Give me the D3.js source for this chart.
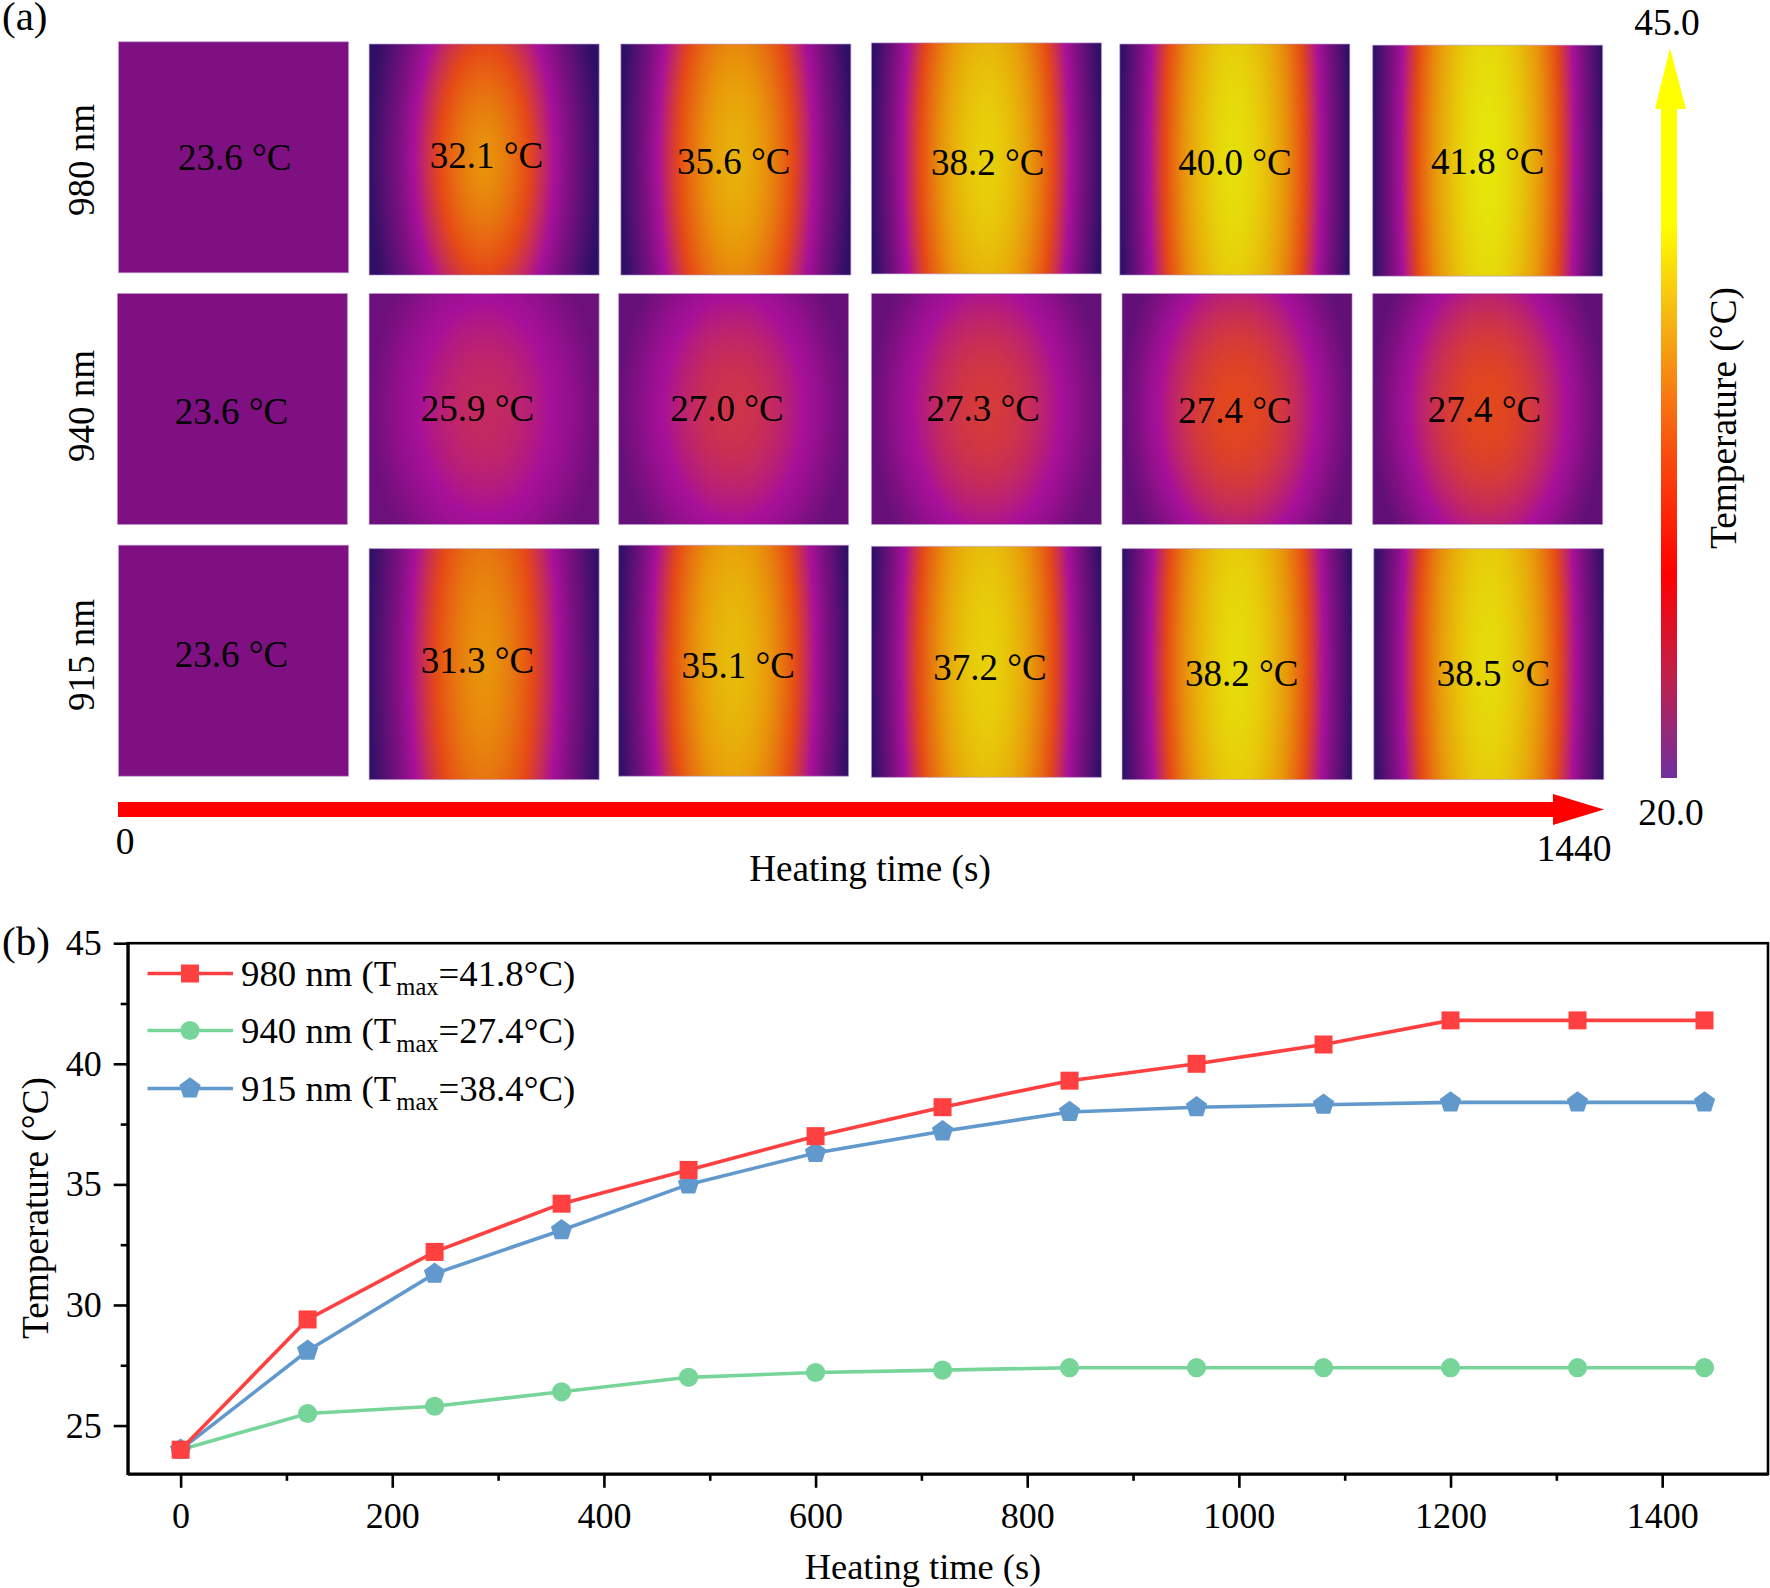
<!DOCTYPE html>
<html><head><meta charset="utf-8">
<script src="https://cdn.jsdelivr.net/npm/d3@7"></script>
<style>html,body{margin:0;padding:0;background:#fff}svg{display:block}text{font-family:"Liberation Serif","Times New Roman",serif;fill:#000}</style>
</head><body><div id="c"></div>
<script>
// ---------- data ----------
const times = [0,120,240,360,480,600,720,840,960,1080,1200,1320,1440];
const t980 = [24,29.4,32.2,34.2,35.6,37,38.2,39.3,40,40.8,41.8,41.8,41.8];
const t940 = [24,25.5,25.8,26.4,27,27.2,27.3,27.4,27.4,27.4,27.4,27.4,27.4];
const t915 = [24,28.1,31.3,33.1,35,36.3,37.2,38,38.2,38.3,38.4,38.4,38.4];
const seriesNames = ["980 nm","940 nm","915 nm"];
const seriesTmax = ["41.8","27.4","38.4"];
const seriesColors = ["#ff4040","#77d59a","#6299cd"];
const xTicks = [0,200,400,600,800,1000,1200,1400];
const yTicks = [25,30,35,40,45];
const cellLabels = [
 ["23.6","32.1","35.6","38.2","40.0","41.8"],
 ["23.6","25.9","27.0","27.3","27.4","27.4"],
 ["23.6","31.3","35.1","37.2","38.2","38.5"]];
// thermal-image appearance: centre level, edge level, vertical falloff, profile exponent
const peak = [[.3,.77,.85,.94,.98,1],[.3,.5,.53,.55,.59,.59],[.3,.77,.88,.94,.97,.97]];
const edge = [[.3,.02,.02,.02,.02,.02],[.3,.24,.22,.22,.2,.2],[.3,.03,.03,.03,.03,.03]];
const fall = [[0,.4,.3,.25,.2,.18],[0,.62,.62,.6,.58,.58],[0,.25,.25,.22,.2,.2]];
const expo = [[1,1.55,1.7,1.8,1.85,1.9],[1,2.1,2.1,2.1,2.2,2.2],[1,1.7,1.8,1.85,1.9,1.9]];
const heatLevels = [0,.3,.42,.6,.78,1];
const heatColors = ["#2a1064","#7e1082","#a8109a","#e64a16","#e8980a","#e6e60a"];
const barStops = [[0,"#ffff00"],[.24,"#ffff00"],[.38,"#f5b015"],[.55,"#f8500f"],[.72,"#ff0000"],[.86,"#c0204a"],[1,"#7030a0"]];

// ---------- layout (measured on the 1568-wide preview) ----------
const K = 1770/1568;
const cellX = [[105,327,550,772,992,1216],[104,327,548,772,994,1216],[105,327,548,772,994,1217]];
const cellY = [[37,39,39,38,39,40],[260,260,260,260,260,260],[483,486,483,484,486,486]];
const cellW = 204, cellH = 205;
const labelX = [[208,431,650,875,1094,1318],[205,423,644,871,1094,1315],[205,423,654,877,1100,1323]];
const labelY = [[140,138,143,144,144,143],[365,362,362,362,364,363],[580,585,590,592,597,597]];
const rowNames = ["980 nm","940 nm","915 nm"];
const rowNameY = [160,406,655];

const svg = d3.select("#c").append("svg").attr("width",1770).attr("height",1588).attr("viewBox","0 0 1770 1588");
const txt = (s,x,y,size,anchor="middle",rot=0)=>{
  const t = svg.append("text").attr("font-size",size).attr("text-anchor",anchor).text(s);
  t.attr("transform",`translate(${x},${y}) rotate(${rot})`); return t;};

// ---------- heat panels ----------
const heat = d3.scaleLinear().domain(heatLevels).range(heatColors).interpolate(d3.interpolateRgb).clamp(true);
const lut = d3.range(513).map(i=>{const c=d3.rgb(heat(i/512));return [c.r,c.g,c.b];});
const W = Math.round(cellW*K), H = Math.round(cellH*K);
function panel(r,c){
  const cv=document.createElement("canvas");cv.width=W;cv.height=H;
  const ctx=cv.getContext("2d"),im=ctx.createImageData(W,H),d=im.data;
  const P=peak[r][c],E=edge[r][c],F=fall[r][c],X=expo[r][c];
  for(let y=0;y<H;y++){const v=(y+.5)/H*2-1;
    for(let x=0;x<W;x++){const u=(x+.5)/W*2-1;
      const rr=Math.min(1,Math.sqrt(u*u+F*F*v*v));
      const L=E+(P-E)*(1-Math.pow(rr,X));
      const col=lut[Math.max(0,Math.min(512,Math.round(L*512)))],i=(y*W+x)*4;
      d[i]=col[0];d[i+1]=col[1];d[i+2]=col[2];d[i+3]=255;}}
  ctx.putImageData(im,0,0);return cv.toDataURL();
}
const cells = cellLabels.flatMap((row,r)=>row.map((s,c)=>({r,c,s})));
svg.append("g").selectAll("image").data(cells).join("image")
  .attr("x",d=>cellX[d.r][d.c]*K).attr("y",d=>cellY[d.r][d.c]*K)
  .attr("width",W).attr("height",H).attr("href",d=>panel(d.r,d.c));
svg.append("g").selectAll("rect").data(cells).join("rect")
  .attr("x",d=>cellX[d.r][d.c]*K).attr("y",d=>cellY[d.r][d.c]*K)
  .attr("width",W).attr("height",H).attr("fill","none")
  .attr("stroke","#b79ad0").attr("stroke-opacity",.6).attr("stroke-width",1);
svg.append("g").selectAll("text").data(cells).join("text")
  .attr("x",d=>labelX[d.r][d.c]*K).attr("y",d=>labelY[d.r][d.c]*K)
  .attr("dy","0.33em").attr("text-anchor","middle").attr("font-size",37)
  .text(d=>d.s+" °C");
rowNames.forEach((s,i)=>txt(s,94,rowNameY[i],37,"middle",-90));

// ---------- arrows ----------
const defs = svg.append("defs");
const lg = defs.append("linearGradient").attr("id","bar").attr("gradientUnits","userSpaceOnUse")
  .attr("x1",0).attr("x2",0).attr("y1",48).attr("y2",778);
lg.selectAll("stop").data(barStops).join("stop").attr("offset",d=>d[0]).attr("stop-color",d=>d[1]);
svg.append("path").attr("fill","url(#bar)")
  .attr("d","M1670,48L1686,109L1677,109L1677,778L1661,778L1661,109L1655,109Z");
svg.append("path").attr("fill","#ff0000")
  .attr("d","M118,802L1553,802L1553,794L1604,809.5L1553,825L1553,817L118,817Z");
txt("45.0",1667,35,37.5); txt("20.0",1671,825,37.5);
txt("0",125,854,37.5); txt("1440",1574,861,37.5);
txt("Heating time (s)",870,881,37.2);
txt("Temperature (°C)",1736,418,37.3,"middle",-90);
txt("(a)",2,30,41,"start"); txt("(b)",2,955,41,"start");

// ---------- line chart ----------
const x = d3.scaleLinear().domain([-50,1500]).range([127.7,1768]);
const y = d3.scaleLinear().domain([23,45]).range([1473.8,943.2]);
const axisCol="#000", axisW=2.6;
const xAxis = d3.axisBottom(x).tickValues(xTicks).tickSizeInner(14).tickSizeOuter(0).tickPadding(15).tickFormat(d3.format("d"));
const yAxis = d3.axisLeft(y).tickValues(yTicks).tickSizeInner(14).tickSizeOuter(0).tickPadding(12).tickFormat(d3.format("d"));
const xMinor = d3.axisBottom(x).tickValues(d3.range(100,1500,200)).tickSizeInner(7).tickSizeOuter(0).tickFormat("");
const yMinor = d3.axisLeft(y).tickValues([27.5,32.5,37.5,42.5]).tickSizeInner(7).tickSizeOuter(0).tickFormat("");
[[xMinor,`translate(0,${y.range()[0]})`],[yMinor,`translate(${x.range()[0]},0)`],
 [xAxis,`translate(0,${y.range()[0]})`],[yAxis,`translate(${x.range()[0]},0)`]].forEach(([a,t])=>{
  const g=svg.append("g").attr("transform",t).call(a);
  g.selectAll("path,line").attr("stroke",axisCol).attr("stroke-width",axisW);
  g.selectAll("text").attr("font-size",36).attr("font-family",'"Liberation Serif",serif').attr("fill","#000");
});
svg.append("rect").attr("x",x.range()[0]).attr("y",y.range()[1])
  .attr("width",x.range()[1]-x.range()[0]).attr("height",y.range()[0]-y.range()[1])
  .attr("fill","none").attr("stroke",axisCol).attr("stroke-width",axisW);

const line = d3.line().x((d,i)=>x(times[i])).y(d=>y(d));
const symSquare = d3.symbol().type(d3.symbolSquare).size(18*18)();
const symCircle = d3.symbol().type(d3.symbolCircle).size(Math.PI*9.6*9.6)();
const pent = d3.range(5).map(i=>{const a=-Math.PI/2+i*2*Math.PI/5;return [11.2*Math.cos(a),11.2*Math.sin(a)];});
const symPent = "M"+pent.map(p=>p.join(",")).join("L")+"Z";
const symbols = [symSquare,symCircle,symPent];
const allSeries = [t980,t940,t915];
[1,2,0].forEach(k=>{
  const g=svg.append("g");
  g.append("path").attr("d",line(allSeries[k])).attr("fill","none")
    .attr("stroke",seriesColors[k]).attr("stroke-width",3.6);
  g.selectAll("path.m").data(allSeries[k]).join("path").attr("class","m")
    .attr("d",symbols[k]).attr("fill",seriesColors[k])
    .attr("transform",(d,i)=>`translate(${x(times[i])},${y(d)})`);
});
txt("Heating time (s)",923,1579,36.4);
txt("Temperature (°C)",48,1208,37.3,"middle",-90);

// legend
const legY=[973.5,1030.5,1088.5];
seriesNames.forEach((s,k)=>{
  svg.append("line").attr("x1",147.5).attr("x2",233).attr("y1",legY[k]).attr("y2",legY[k])
    .attr("stroke",seriesColors[k]).attr("stroke-width",3.6);
  svg.append("path").attr("d",symbols[k]).attr("fill",seriesColors[k])
    .attr("transform",`translate(190,${legY[k]})`);
  const t=svg.append("text").attr("x",241).attr("y",legY[k]+12).attr("font-size",36.8);
  t.append("tspan").text(s+" (T");
  t.append("tspan").attr("font-size",24.5).attr("dy",9).text("max");
  t.append("tspan").attr("dy",-9).text("="+seriesTmax[k]+"°C)");
});
</script></body></html>
